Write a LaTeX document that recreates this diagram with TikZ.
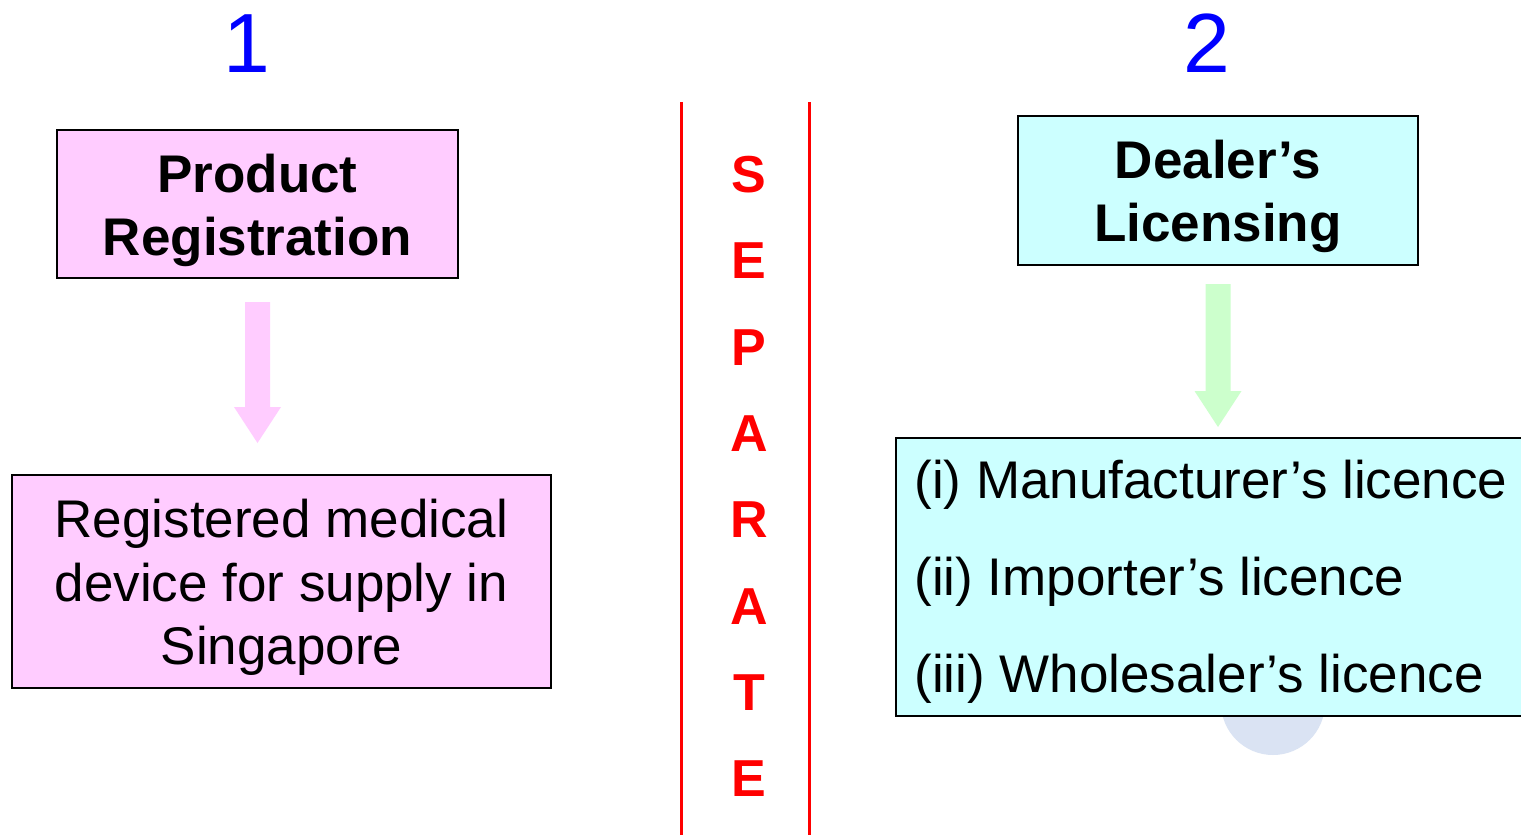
\documentclass[tikz,border=0pt]{standalone}
\usepackage{fontspec}
\setmainfont{Liberation Sans}
\usetikzlibrary{calc}
\definecolor{boxpink}{HTML}{FFCCFF}
\definecolor{boxcyan}{HTML}{CCFFFF}
\definecolor{arrowgreen}{HTML}{CCFFCC}
\definecolor{circblue}{HTML}{DAE3F3}
\definecolor{numblue}{HTML}{0000FF}
\definecolor{sepred}{HTML}{FF0000}
\newcommand\blockarrow[3]{%
  \fill[#3] ($(#1)+(-12.5,0)$) -- ($(#1)+(12.5,0)$) -- ($(#2)+(12.5,-36)$)
    -- ($(#2)+(23.5,-36)$) -- (#2) -- ($(#2)+(-23.5,-36)$)
    -- ($(#2)+(-12.5,-36)$) -- cycle;}
\begin{document}
\begin{tikzpicture}[x=0.5pt,y=-0.5pt,
  box/.style={draw=black, line width=1pt, inner sep=0pt},
  boxtext/.style={align=center, inner sep=0pt},
  titlefont/.style={font=\fontsize{26.5}{31.5}\selectfont\bfseries},
  bodyfont/.style={font=\fontsize{26.5}{31.75}\selectfont},
  listfont/.style={font=\fontsize{26.5}{48.5}\selectfont},
  numstyle/.style={text=numblue, font=\fontsize{42}{48}\selectfont, anchor=base, inner sep=0pt},
  sepline/.style={draw=sepred, line width=1.5pt},
  septext/.style={text=sepred, font=\fontsize{26}{43.15}\selectfont\bfseries, align=center, inner sep=0pt}]
\useasboundingbox (0,0) rectangle (1521,835);
\clip (0,0) rectangle (1521,835);
\fill[white] (0,0) rectangle (1521,835);

% numbers
\node[numstyle] (n1) at (246.5,72) {1};
\node[numstyle] (n2) at (1207,72) {2};

% left column
\node[box, fill=boxpink, minimum width=200.5pt, minimum height=74pt] (prod) at (257.5,204) {};
\node[boxtext, titlefont] (prodtext) at ($(prod.center)+(0,6)$) {Product\\Registration};
\node[box, fill=boxpink, minimum width=269.5pt, minimum height=106.5pt] (reg) at (281.5,581.5) {};
\node[boxtext, bodyfont] (regtext) at ($(reg.center)+(0,6)$) {Registered medical\\device for supply in\\Singapore};
\coordinate (pa1) at ($(prod.south)+(0,23)$);
\coordinate (pa2) at ($(prod.south |- reg.north)+(0,-31)$);
\blockarrow{pa1}{pa2}{boxpink}

% separator
\coordinate (l1t) at (681,102);
\coordinate (l1b) at (681,840);
\coordinate (l2t) at (809,102);
\coordinate (l2b) at (809,840);
\draw[sepline] (l1t) -- (l1b);
\draw[sepline] (l2t) -- (l2b);
\node[septext] (sep) at (749,476.5) {S\\E\\P\\A\\R\\A\\T\\E};

% right column
\node[box, fill=boxcyan, minimum width=200pt, minimum height=74.5pt] (deal) at (1218,190.5) {};
\node[boxtext, titlefont] (dealtext) at ($(deal.center)+(0,6)$) {Dealer’s\\Licensing};
\fill[circblue] (1273,703) circle[radius=52];
\node[box, fill=boxcyan, anchor=north west, minimum width=322.5pt, minimum height=139pt] (lic) at (895,437) {};
\node[listfont, align=left, anchor=west, inner sep=0pt] (lictext) at ($(lic.west)+(19,5)$) {(i) Manufacturer’s licence\\(ii) Importer’s licence\\(iii) Wholesaler’s licence};
\coordinate (ga1) at ($(deal.south)+(0,18)$);
\coordinate (ga2) at ($(deal.south |- lic.north)+(0,-10)$);
\blockarrow{ga1}{ga2}{arrowgreen}
\end{tikzpicture}
\end{document}
